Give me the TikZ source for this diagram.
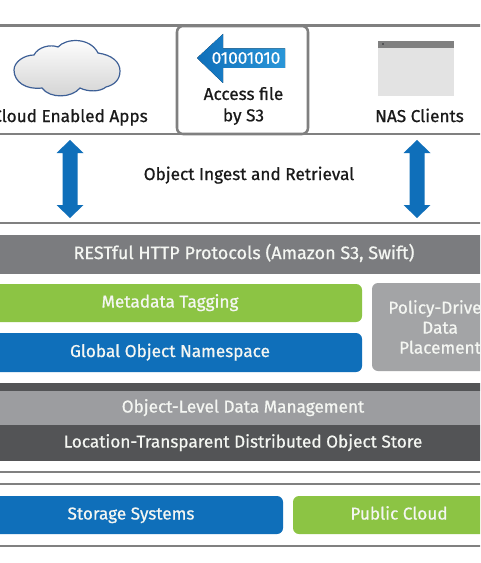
\documentclass[tikz,border=0pt]{standalone}
\usepackage{fontspec}
\setmainfont{Fira Sans}[FakeBold=0.7]
\definecolor{rulegray}{HTML}{808080}
\definecolor{blueA}{HTML}{0F6FBA}
\definecolor{greenA}{HTML}{8CC444}
\definecolor{grayA}{HTML}{7B7C7F}
\definecolor{grayB}{HTML}{9C9DA0}
\definecolor{grayC}{HTML}{A3A4A6}
\definecolor{darkA}{HTML}{535456}
\definecolor{iconblue}{HTML}{2A96D8}
\definecolor{cloudline}{HTML}{3D5F96}
\definecolor{txt}{HTML}{1A1A1A}
\definecolor{txtw}{HTML}{F4F6F2}
\tikzset{
  x=0.75pt,y=-0.75pt,
  rulel/.style={draw=rulegray,line width=1.9pt},
  bandbox/.style={inner sep=0pt,outer sep=0pt,text=txtw,font=\fontsize{12.9}{15}\selectfont,align=center,text height=10pt,text depth=3.2pt},
  roundbox/.style={bandbox,rounded corners=4.5pt},
  lab/.style={inner sep=0pt,text=txt,font=\fontsize{12.9}{16}\selectfont,align=center},
  singlelab/.style={lab,text height=10pt,text depth=3.2pt},
  dbl/.style={fill=blueA,draw=none},
}
\newcommand{\pxbox}[7]{%
  \pgfmathsetmacro\pxw{(#4-(#2))*0.75}\pgfmathsetmacro\pxh{(#5-(#3))*0.75}%
  \node[#6,minimum width=\pxw pt,minimum height=\pxh pt] (#1) at ({(#2+#4)/2},{(#3+#5)/2}) {#7};}
\newcommand{\dblarrow}[1]{%
  \fill[dbl] (#1,140) -- (#1+13.5,153) -- (#1+7.5,153) -- (#1+7.5,205) -- (#1+13.5,205) -- (#1,218) -- (#1-13.5,205) -- (#1-7.5,205) -- (#1-7.5,153) -- (#1-13.5,153) -- cycle;}
\begin{document}
\begin{tikzpicture}
\useasboundingbox (0,0) rectangle (480,563);
\clip (0,0) rectangle (480,563);
\fill[white] (0,0) rectangle (480,563);
% rules
\draw[rulel] (-5,25.5) -- (485,25.5);
\draw[rulel] (-5,134) -- (485,134);
\draw[rulel] (-5,223) -- (485,223);
\draw[rulel] (-5,472) -- (485,472);
\draw[rulel] (-5,484) -- (485,484);
\draw[rulel] (-5,546) -- (485,546);
% cloud
\draw[cloudline,line width=0.9pt,top color=white,bottom color=gray!35]
 (14,70) .. controls (14,62) and (24,55) .. (34,55)
 .. controls (38,47) and (50,44) .. (58,47)
 .. controls (66,38) and (90,37) .. (98,53)
 .. controls (112,55) and (120,62) .. (120,71)
 .. controls (120,80) and (114,85) .. (106,87)
 .. controls (100,92) and (88,92) .. (80,88)
 .. controls (72,98) and (50,99) .. (42,88)
 .. controls (26,90) and (14,82) .. (14,70) -- cycle;
\node[singlelab] (cloudapps) at (70,117.5) {Cloud Enabled Apps};
% access box
\pxbox{access}{177}{26}{308}{134}{draw=rulegray,line width=1.9pt,fill=white,rounded corners=4.5pt}{}
\fill[left color=blueA,right color=iconblue] (197,58) -- (223,34) -- (223,48.5) -- (285,48.5) -- (285,68) -- (223,68) -- (223,83) -- cycle;
\node[inner sep=0pt,text=white,font=\fontsize{12.8}{14}\selectfont] (bits) at (246,58) {01001010};
\node[lab] (s3) at (243.5,106) {Access file\\by S3};
% NAS icon
\fill[gray!22] (378,41) rectangle (454,96);
\fill[rulegray] (378,41) rectangle (454,48);
\fill[darkA] (382,43.5) rectangle (384,45.5);
\node[singlelab] (nas) at (419.5,117.5) {NAS Clients};
% arrows
\dblarrow{70}
\dblarrow{417}
\node[singlelab] (ingest) at (249,175.5) {Object Ingest and Retrieval};
% bands
\pxbox{rest}{-10}{235}{498}{274}{bandbox,fill=grayA,font=\fontsize{13.5}{15}\selectfont}{RESTful HTTP Protocols (Amazon S3, Swift)}
\pxbox{meta}{-22}{284}{362}{322}{roundbox,fill=greenA}{Metadata Tagging}
\pxbox{global}{-22}{333}{362}{372}{roundbox,fill=blueA}{Global Object Namespace}
\pxbox{policy}{372}{283}{508}{371}{roundbox,fill=grayC,text height=,text depth=}{Policy-Driven\\Data\\Placement}
\pxbox{topdark}{-10}{383}{498}{391}{bandbox,fill=darkA,text height=,text depth=}{}
\pxbox{objlevel}{-10}{391}{496}{425}{bandbox,fill=grayB}{Object-Level Data Management}
\pxbox{location}{-10}{425}{496}{461}{bandbox,fill=darkA}{Location-Transparent Distributed Object Store}
\pxbox{storage}{-21}{496}{283}{534}{roundbox,fill=blueA}{Storage Systems}
\pxbox{public}{293}{496}{505}{534}{roundbox,fill=greenA}{Public Cloud}
\end{tikzpicture}
\end{document}
